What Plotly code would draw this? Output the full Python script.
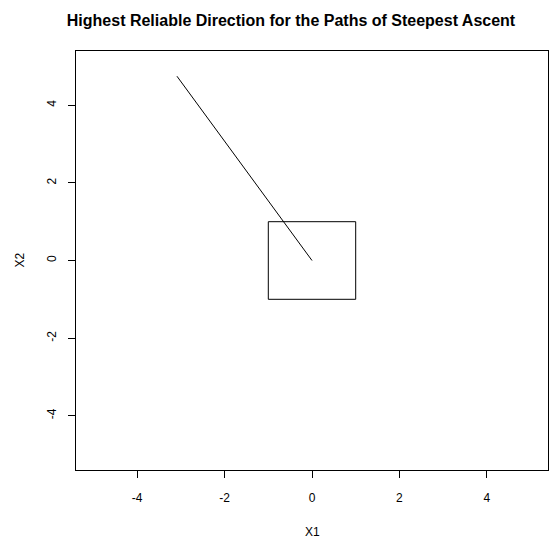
import plotly.graph_objects as go

# Data
path_x = [0, -3.09]
path_y = [0, 4.75]
box_x = [-1, 1, 1, -1, -1]
box_y = [-1, -1, 1, 1, -1]
tick_vals = [-4, -2, 0, 2, 4]
tick_text = ["-4", "-2", "0", "2", "4"]

fig = go.Figure()
fig.add_trace(go.Scatter(x=path_x, y=path_y, mode="lines",
                         line=dict(color="black", width=1), showlegend=False))
fig.add_trace(go.Scatter(x=box_x, y=box_y, mode="lines",
                         line=dict(color="black", width=1), showlegend=False))

axis_common = dict(range=[-5.4, 5.4], tickvals=tick_vals, ticktext=tick_text,
                   showgrid=False, zeroline=False, showline=True, linecolor="black",
                   linewidth=1, mirror=True, ticks="outside", ticklen=7,
                   tickcolor="black", tickfont=dict(family="Liberation Sans, Arial", size=12, color="black"))

fig.update_xaxes(**axis_common, ticklabelstandoff=10)
fig.update_yaxes(**axis_common, tickangle=-90, ticklabelstandoff=7)

fig.update_layout(
    width=558, height=542,
    margin=dict(l=76, r=10, t=51, b=72),
    plot_bgcolor="white", paper_bgcolor="white",
    font=dict(family="Liberation Sans, Arial", color="black"),
    title=dict(text="<b>Highest Reliable Direction for the Paths of Steepest Ascent</b>",
               x=291 / 558, xanchor="center", y=1 - 20 / 542, yanchor="middle",
               font=dict(size=16, family="Liberation Sans, Arial", color="black")),
    annotations=[
        dict(text="X1", xref="paper", yref="paper", x=0.5, y=(470 - 532) / 419,
             xanchor="center", yanchor="middle", showarrow=False,
             font=dict(size=12, family="Liberation Sans, Arial", color="black")),
        dict(text="X2", xref="paper", yref="paper", x=(19 - 76) / 472, y=0.5,
             xanchor="center", yanchor="middle", showarrow=False, textangle=-90,
             font=dict(size=12, family="Liberation Sans, Arial", color="black")),
    ],
)

fig.write_html("out.html")
